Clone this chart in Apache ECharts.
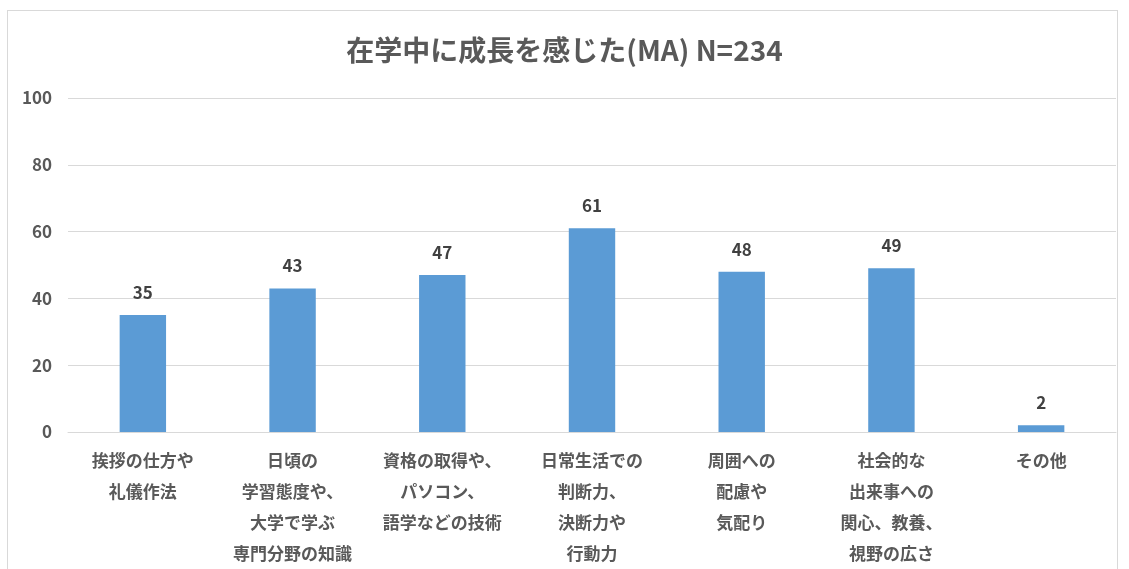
<!DOCTYPE html>
<html>
<head>
<meta charset="utf-8">
<script src="https://cdn.jsdelivr.net/npm/echarts@6/dist/echarts.min.js"></script>
<style>
  html, body { margin: 0; padding: 0; background: #fff; }
  #frame { position: absolute; left: 7px; top: 10px; width: 1111px; height: 570px; border: 1px solid #d9d9d9; box-sizing: border-box; }
  #chart { position: absolute; left: 0; top: 0; width: 1129px; height: 569px; }
</style>
</head>
<body>
<div id="frame"></div>
<div id="chart"></div>
<script>
  // 項目名（改行込み）
  var categories = [
    '挨拶の仕方や\n礼儀作法',
    '日頃の\n学習態度や、\n大学で学ぶ\n専門分野の知識',
    '資格の取得や、\nパソコン、\n語学などの技術',
    '日常生活での\n判断力、\n決断力や\n行動力',
    '周囲への\n配慮や\n気配り',
    '社会的な\n出来事への\n関心、教養、\n視野の広さ',
    'その他'
  ];
  var values = [35, 43, 47, 61, 48, 49, 2];
  var yTicks = [0, 20, 40, 60, 80, 100];

  var font = '"Noto Sans CJK JP", "Noto Sans", sans-serif';
  var myChart = echarts.init(document.getElementById('chart'));

  myChart.setOption({
    animation: false,
    title: {
      text: '在学中に成長を感じた(MA) N=234',
      left: 'center',
      top: 31,
      textStyle: { fontFamily: font, fontSize: 28, fontWeight: 'bold', color: '#595959' }
    },
    grid: { left: 68, right: 13, top: 98, bottom: 137, outerBoundsMode: 'none', containLabel: false },
    xAxis: {
      type: 'category',
      data: categories,
      axisLine: { lineStyle: { color: '#d9d9d9' } },
      axisTick: { show: false },
      axisLabel: {
        interval: 0,
        margin: 13,
        fontFamily: font,
        fontSize: 17,
        fontWeight: 'bold',
        color: '#595959',
        lineHeight: 31,
        align: 'center'
      }
    },
    yAxis: {
      type: 'value',
      min: yTicks[0],
      max: yTicks[yTicks.length - 1],
      interval: 20,
      axisLine: { show: false },
      axisTick: { show: false },
      splitLine: { lineStyle: { color: '#d9d9d9' } },
      axisLabel: { margin: 16, fontFamily: font, fontSize: 17, fontWeight: 'bold', color: '#595959' }
    },
    series: [
      {
        type: 'bar',
        data: values,
        barWidth: '31%',
        itemStyle: { color: '#5b9bd5' },
        label: {
          show: true,
          position: 'top',
          distance: 14,
          fontFamily: font,
          fontSize: 17,
          fontWeight: 'bold',
          color: '#404040'
        }
      }
    ]
  });
</script>
</body>
</html>
